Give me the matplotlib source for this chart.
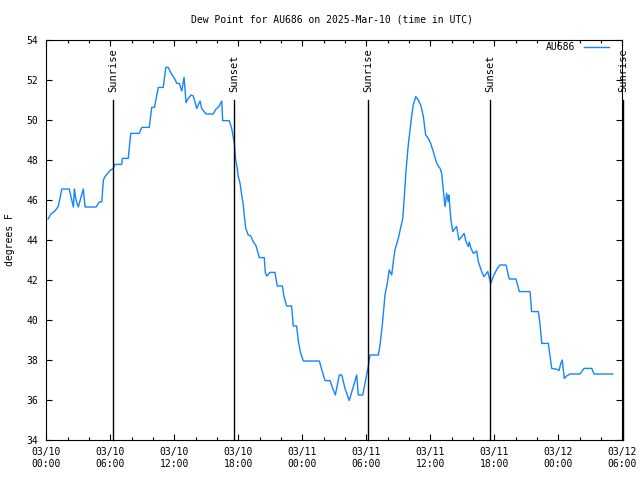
"""
Dew point time series for station AU686, gnuplot-like styling
"""
import numpy as np
import pandas as pd
import matplotlib
matplotlib.use("Agg")
import matplotlib.pyplot as plt
import matplotlib.dates as mdates

# minutes after 2025-03-10 00:00 UTC
minutes = [10, 26, 49, 68, 87, 129, 152, 158, 167, 180, 208, 218, 280, 298, 312, 321, 330, 358,
           377, 386, 424, 428, 461, 475, 523, 537, 579, 593, 608, 630, 658, 672, 686, 700, 724,
           734, 748, 762, 775, 786, 799, 814, 827, 846, 865, 874, 898, 939, 953, 971, 987, 992,
           1029, 1043, 1058, 1065, 1074, 1080, 1090, 1099, 1108, 1114, 1122, 1136, 1150, 1164,
           1180, 1198, 1226, 1232, 1240, 1258, 1286, 1299, 1328, 1337, 1352, 1380, 1389, 1408,
           1418, 1431, 1446, 1536, 1549, 1568, 1596, 1611, 1626, 1648, 1662, 1680, 1704, 1746,
           1755, 1780, 1802, 1811, 1821, 1868, 1877, 1887, 1896, 1905, 1918, 1929, 1943, 1952,
           1961, 1980, 1995, 2005, 2012, 2023, 2036, 2055, 2064, 2078, 2092, 2106, 2121, 2134,
           2149, 2162, 2177, 2196, 2215, 2224, 2233, 2243, 2252, 2261, 2265, 2275, 2286, 2299,
           2308, 2321, 2337, 2350, 2361, 2374, 2379, 2389, 2402, 2421, 2430, 2449, 2462, 2483,
           2500, 2514, 2534, 2552, 2586, 2604, 2642, 2661, 2721, 2730, 2768, 2777, 2787, 2824,
           2843, 2874, 2884, 2894, 2902, 2914, 2927, 2946, 3002, 3025, 3068, 3081, 3186]

dew_point = [45.05, 45.3, 45.45, 45.7, 46.55, 46.55, 45.65, 46.55, 46.0, 45.65, 46.55, 45.65,
             45.65, 45.9, 45.9, 47.0, 47.17, 47.47, 47.58, 47.78, 47.78, 48.08, 48.08, 49.33,
             49.33, 49.63, 49.63, 50.63, 50.63, 51.63, 51.63, 52.63, 52.63, 52.37, 52.03, 51.83,
             51.83, 51.45, 52.13, 50.87, 51.08, 51.25, 51.2, 50.58, 50.95, 50.58, 50.3, 50.3,
             50.53, 50.67, 50.95, 49.97, 49.97, 49.58, 48.83, 48.0, 47.58, 47.17, 46.83, 46.25,
             45.75, 45.17, 44.58, 44.25, 44.2, 43.92, 43.7, 43.12, 43.12, 42.37, 42.2, 42.38,
             42.38, 41.7, 41.7, 41.17, 40.7, 40.7, 39.7, 39.7, 38.92, 38.33, 37.95, 37.95, 37.53,
             36.97, 36.97, 36.58, 36.25, 37.25, 37.25, 36.58, 35.97, 37.25, 36.25, 36.25, 37.25,
             37.67, 38.25, 38.25, 38.75, 39.5, 40.33, 41.25, 41.83, 42.5, 42.25, 42.92, 43.5,
             44.08, 44.67, 45.08, 45.92, 47.42, 48.75, 50.17, 50.75, 51.17, 51.0, 50.75, 50.17,
             49.25, 49.08, 48.83, 48.42, 47.83, 47.58, 47.33, 46.5, 45.67, 46.33, 45.92, 46.25,
             45.08, 44.42, 44.58, 44.67, 44.0, 44.17, 44.33, 43.92, 43.67, 43.9, 43.58, 43.33,
             43.45, 42.92, 42.42, 42.17, 42.42, 41.83, 42.17, 42.53, 42.75, 42.75, 42.05, 42.05,
             41.42, 41.42, 40.42, 40.42, 39.8, 38.83, 38.83, 37.58, 37.53, 37.47, 37.83, 38.0,
             37.08, 37.2, 37.3, 37.3, 37.58, 37.58, 37.3, 37.3]

sun_times = ["2025-03-10 06:15", "2025-03-10 17:37", "2025-03-11 06:11",
             "2025-03-11 17:37", "2025-03-12 06:06"]
sun_labels = ["Sunrise", "Sunset", "Sunrise", "Sunset", "Sunrise"]

start = pd.Timestamp("2025-03-10 00:00")
end = pd.Timestamp("2025-03-12 06:00")

mono = "DejaVu Sans Mono"
fs = 7
plt.rcParams["font.family"] = mono
plt.rcParams["font.size"] = fs

times = start + pd.to_timedelta(minutes, unit="m")

fig = plt.figure(figsize=(6.4, 4.8), dpi=100)
ax = fig.add_axes([46.3 / 640, 40 / 480, 576 / 640, 400 / 480])

ax.plot(times, dew_point, color="#1484ff", lw=1.0, label="AU686")

# sunrise / sunset markers
for t, lab in zip(sun_times, sun_labels):
    ts = pd.Timestamp(t)
    ax.plot([ts, ts], [34, 51.0], color="black", lw=1.0, clip_on=False)
    ax.text(ts, 51.4, lab, rotation=90, ha="center", va="bottom", fontsize=7.5,
            clip_on=False)

ax.set_xlim(start, end)
ax.set_ylim(34, 54)
ax.set_yticks(np.arange(34, 55, 2))

ax.xaxis.set_major_locator(mdates.HourLocator(byhour=[0, 6, 12, 18]))
ax.xaxis.set_minor_locator(mdates.HourLocator(byhour=range(0, 24, 2)))
ax.xaxis.set_major_formatter(mdates.DateFormatter("%m/%d\n%H:%M"))

ax.tick_params(which="both", direction="in", top=True, right=True, width=0.8)
ax.tick_params(which="major", length=4)
ax.tick_params(which="minor", length=2.3)
ax.tick_params(axis="x", pad=5)
ax.tick_params(axis="y", pad=6)
for s in ax.spines.values():
    s.set_linewidth(0.8)

fig.text(332 / 640, 1 - 19 / 480, "Dew Point for AU686 on 2025-Mar-10 (time in UTC)",
         ha="center", va="center", fontsize=fs)
fig.text(10 / 640, 0.5, "degrees F", rotation=90, ha="center", va="center", fontsize=fs)

ax.legend(loc="upper right", bbox_to_anchor=(0.977, 0.995), frameon=False,
          markerfirst=False, handlelength=2.6, handletextpad=0.9, borderpad=0,
          borderaxespad=0, fontsize=fs)

fig.savefig("out.png", dpi=100)
